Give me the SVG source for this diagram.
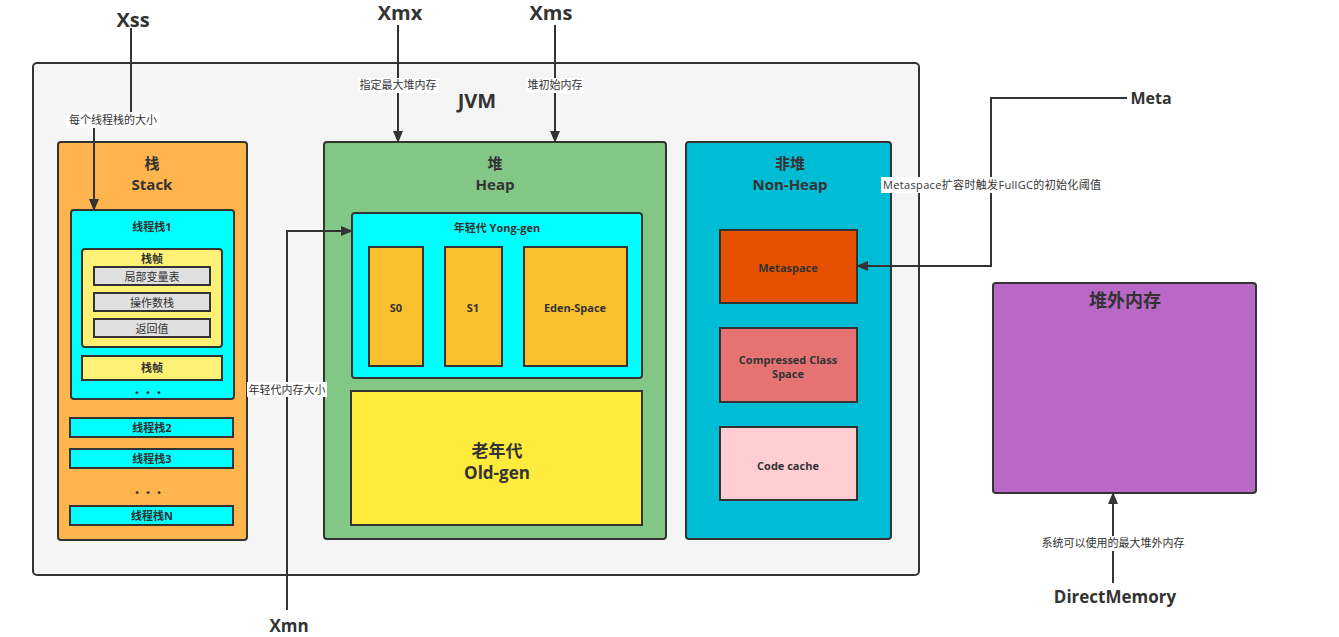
<svg xmlns="http://www.w3.org/2000/svg" width="1339" height="637" viewBox="0 0 1339 637">
<defs>
<marker id="arr" markerWidth="12" markerHeight="10" refX="11" refY="5" orient="auto" markerUnits="userSpaceOnUse">
<path d="M0,0 L12,5 L0,10 Z" fill="#333"/>
</marker>
<style>
text{font-family:"Open Sans","Noto Sans CJK SC",sans-serif;fill:#333;text-anchor:middle}
.b{font-weight:bold}
.box{stroke:#333;stroke-width:2}
.lbl{font-size:11px}
.bg{fill:#fff}
.ln{fill:none;stroke:#333;stroke-width:2}
</style>
</defs>
<rect width="1339" height="637" fill="#fff"/>
<g id="jvm">
<rect class="box" x="33" y="63" width="886" height="512" rx="4" fill="#f5f5f5"/>
<text class="b" x="477" y="108" font-size="20">JVM</text>
</g>
<g id="stack">
<rect class="box" x="58" y="142" width="189" height="398" rx="3" fill="#ffb54d"/>
<text class="b" x="152" y="169" font-size="15">栈</text>
<text class="b" x="152" y="190" font-size="15">Stack</text>
</g>
<g id="thread1">
<rect class="box" x="71" y="210" width="163" height="189" rx="3" fill="#00ffff"/>
<text class="b" x="152" y="231" font-size="11">线程栈1</text>
<text class="b" x="148" y="397" font-size="11">・・・</text>
</g>
<g id="frame1">
<rect class="box" x="82" y="249" width="140" height="98" rx="3" fill="#fff176"/>
<text class="b" x="152" y="263" font-size="11">栈帧</text>
<rect class="box" x="94" y="267" width="116" height="18" fill="#e0e0e0"/>
<text x="152" y="281" font-size="11">局部变量表</text>
<rect class="box" x="94" y="293" width="116" height="18" fill="#e0e0e0"/>
<text x="152" y="307" font-size="11">操作数栈</text>
<rect class="box" x="94" y="319" width="116" height="18" fill="#e0e0e0"/>
<text x="152" y="333" font-size="11">返回值</text>
</g>
<g id="frame2">
<rect class="box" x="82" y="356" width="140" height="24" fill="#fff176"/>
<text class="b" x="152" y="372" font-size="11">栈帧</text>
</g>
<g id="thread2">
<rect class="box" x="70" y="418" width="163" height="19" fill="#00ffff"/>
<text class="b" x="152" y="432" font-size="11">线程栈2</text>
</g>
<g id="thread3">
<rect class="box" x="70" y="449" width="163" height="19" fill="#00ffff"/>
<text class="b" x="152" y="463" font-size="11">线程栈3</text>
<text class="b" x="148" y="497" font-size="11">・・・</text>
</g>
<g id="threadN">
<rect class="box" x="70" y="506" width="163" height="19" fill="#00ffff"/>
<text class="b" x="152" y="520" font-size="11">线程栈N</text>
</g>
<g id="heap">
<rect class="box" x="324" y="142" width="342" height="397" rx="3" fill="#82c785"/>
<text class="b" x="495" y="169" font-size="15">堆</text>
<text class="b" x="495" y="190" font-size="15">Heap</text>
</g>
<g id="younggen">
<rect class="box" x="352" y="213" width="290" height="165" rx="3" fill="#00ffff"/>
<text class="b" x="497" y="232" font-size="11">年轻代  Yong-gen</text>
</g>
<g id="s0">
<rect class="box" x="369" y="247" width="54" height="119" fill="#fbc02d"/>
<text class="b" x="396" y="312" font-size="11">S0</text>
</g>
<g id="s1">
<rect class="box" x="445" y="247" width="57" height="119" fill="#fbc02d"/>
<text class="b" x="473" y="312" font-size="11">S1</text>
</g>
<g id="eden">
<rect class="box" x="524" y="247" width="103" height="119" fill="#fbc02d"/>
<text class="b" x="575" y="312" font-size="11">Eden-Space</text>
</g>
<g id="oldgen">
<rect class="box" x="351" y="391" width="291" height="134" fill="#ffeb3b"/>
<text class="b" x="497" y="457" font-size="17">老年代</text>
<text class="b" x="497" y="479" font-size="17">Old-gen</text>
</g>
<g id="nonheap">
<rect class="box" x="686" y="142" width="205" height="397" rx="3" fill="#00bcd4"/>
<text class="b" x="790" y="169" font-size="15">非堆</text>
<text class="b" x="790" y="190" font-size="15">Non-Heap</text>
</g>
<g id="metaspace">
<rect class="box" x="720" y="230" width="137" height="73" fill="#e65100"/>
<text class="b" x="788" y="272" font-size="11">Metaspace</text>
</g>
<g id="ccs">
<rect class="box" x="720" y="328" width="137" height="74" fill="#e57373"/>
<text class="b" x="788" y="364" font-size="11">Compressed Class</text>
<text class="b" x="788" y="378" font-size="11">Space</text>
</g>
<g id="codecache">
<rect class="box" x="720" y="427" width="137" height="73" fill="#ffcdd2"/>
<text class="b" x="788" y="470" font-size="11">Code cache</text>
</g>
<g id="offheap">
<rect class="box" x="993" y="283" width="263" height="210" rx="3" fill="#ba68c8"/>
<text class="b" x="1125" y="307" font-size="18">堆外内存</text>
</g>
<g id="params">
<text class="b" x="133" y="27" font-size="20">Xss</text>
<text class="b" x="400" y="20" font-size="20">Xmx</text>
<text class="b" x="551" y="20" font-size="20">Xms</text>
<text class="b" x="289" y="632" font-size="17">Xmn</text>
<text class="b" x="1151" y="104" font-size="16">Meta</text>
<text class="b" x="1115" y="603" font-size="17">DirectMemory</text>
</g>
<g id="connectors">
<path class="ln" d="M131,28 V120 H94 V210" marker-end="url(#arr)"/>
<path class="ln" d="M398,25 V142" marker-end="url(#arr)"/>
<path class="ln" d="M555,25 V142" marker-end="url(#arr)"/>
<path class="ln" d="M287,610 V231 H352" marker-end="url(#arr)"/>
<path class="ln" d="M1127,98 H991 V266 H857" marker-end="url(#arr)"/>
<path class="ln" d="M1113,583 V493" marker-end="url(#arr)"/>
<rect class="bg" x="66" y="112" width="94" height="16"/>
<text class="lbl" x="113" y="124">每个线程栈的大小</text>
<rect class="bg" x="358" y="78" width="81" height="15"/>
<text class="lbl" x="398" y="89">指定最大堆内存</text>
<rect class="bg" x="526" y="78" width="58" height="15"/>
<text class="lbl" x="555" y="89">堆初始内存</text>
<rect class="bg" x="247" y="382" width="80" height="15"/>
<text class="lbl" x="287" y="394">年轻代内存大小</text>
<rect class="bg" x="881" y="177" width="222" height="16"/>
<text class="lbl" x="992" y="189" textLength="218" lengthAdjust="spacing">Metaspace扩容时触发FullGC的初始化阈值</text>
<rect class="bg" x="1038" y="536" width="150" height="15"/>
<text class="lbl" x="1113" y="547">系统可以使用的最大堆外内存</text>
</g>
</svg>
